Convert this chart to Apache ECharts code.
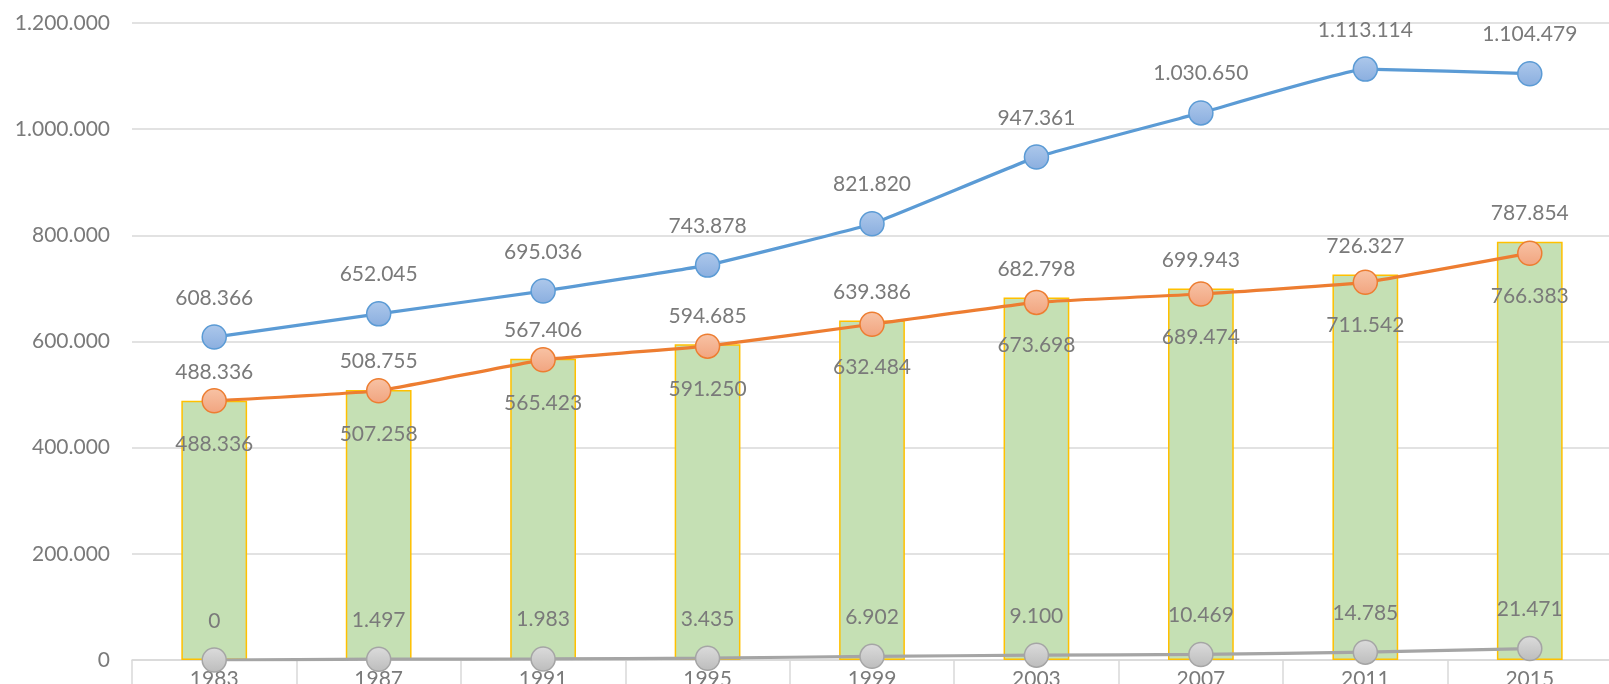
<!DOCTYPE html>
<html>
<head>
<meta charset="utf-8">
<script src="https://cdn.jsdelivr.net/npm/echarts@6/dist/echarts.min.js"></script>
<style>
  html, body { margin: 0; padding: 0; background: #fff; }
  #chart { width: 1609px; height: 684px; }
</style>
</head>
<body>
<div id="chart"></div>
<script>
const years = ['1983', '1987', '1991', '1995', '1999', '2003', '2007', '2011', '2015']
const barValues = [488336, 508755, 567406, 594685, 639386, 682798, 699943, 726327, 787854]
const blueValues = [608366, 652045, 695036, 743878, 821820, 947361, 1030650, 1113114, 1104479]
const orangeValues = [488336, 507258, 565423, 591250, 632484, 673698, 689474, 711542, 766383]
const grayValues = [0, 1497, 1983, 3435, 6902, 9100, 10469, 14785, 21471]

const textColor = '#7a7a7a'
const fontFamily = 'Lato, "Open Sans", sans-serif'

function dots(v) {
  return String(Math.round(v)).replace(/\B(?=(\d{3})+(?!\d))/g, '.')
}

function grad(top, bottom) {
  return new echarts.graphic.LinearGradient(0, 0, 0, 1, [
    { offset: 0, color: top },
    { offset: 1, color: bottom }
  ])
}

function lineSeries(name, data, lineColor, fillTop, fillBottom, labelPos, labelDist) {
  return {
    name: name,
    type: 'line',
    data: data,
    z: 3,
    symbol: 'circle',
    symbolSize: 24,
    smooth: 0.1,
    lineStyle: { color: lineColor, width: 3.2 },
    itemStyle: { color: grad(fillTop, fillBottom), borderColor: lineColor, borderWidth: 1.5 },
    label: {
      show: true,
      position: labelPos,
      distance: labelDist,
      color: textColor,
      fontSize: 21,
      fontFamily: fontFamily,
      formatter: function(p) { return dots(p.value) }
    }
  }
}

const chart = echarts.init(document.getElementById('chart'))
chart.setOption({
  animation: false,
  grid: { left: 132, top: 23, width: 1480, bottom: 24, outerBoundsMode: 'none', containLabel: false },
  xAxis: {
    type: 'category',
    data: years,
    boundaryGap: true,
    axisLine: { lineStyle: { color: '#d9d9d9', width: 1.5 } },
    axisTick: { show: true, interval: 0, length: 30, lineStyle: { color: '#d9d9d9', width: 1.5 } },
    axisLabel: { color: textColor, fontSize: 21, fontFamily: fontFamily, margin: 9 }
  },
  yAxis: {
    type: 'value',
    min: 0,
    max: 1200000,
    interval: 200000,
    axisLine: { show: false },
    axisTick: { show: false },
    splitLine: { lineStyle: { color: '#d9d9d9', width: 1.5 } },
    axisLabel: {
      color: textColor,
      fontSize: 21,
      fontFamily: fontFamily,
      margin: 22,
      formatter: function(v) { return dots(v) }
    }
  },
  series: [
    {
      name: 'bar',
      type: 'bar',
      data: barValues,
      barWidth: '40%',
      z: 1,
      itemStyle: { color: '#c5e0b4', borderColor: '#ffc000', borderWidth: 1.5 },
      label: {
        show: true,
        position: 'top',
        distance: 18,
        color: textColor,
        fontSize: 21,
        fontFamily: fontFamily,
        formatter: function(p) { return dots(p.value) }
      }
    },
    lineSeries('blue', blueValues, '#5b9bd5', '#adc8eb', '#8aaedf', 'top', 16),
    lineSeries('orange', orangeValues, '#ed7d31', '#f8c3a5', '#f1a47f', 'bottom', 20),
    lineSeries('gray', grayValues, '#a5a5a5', '#dcdcdc', '#bcbcbc', 'top', 16)
  ]
})
</script>
</body>
</html>
